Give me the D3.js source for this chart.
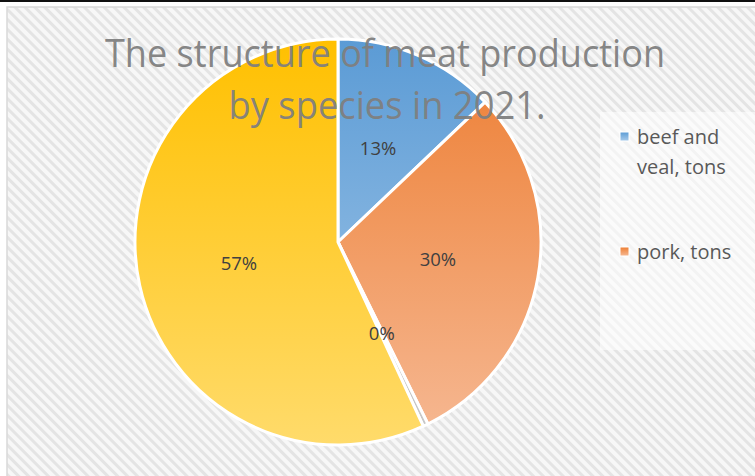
<!DOCTYPE html>
<html>
<head>
<meta charset="utf-8">
<script src="https://cdn.jsdelivr.net/npm/d3@7"></script>
<style>
  html, body { margin: 0; padding: 0; background: #fff; }
  svg { display: block; }
</style>
</head>
<body>
<svg id="chart" width="755" height="476"></svg>
<script>
const categories = ["beef and veal, tons", "pork, tons", "sheep and goat meat, tons", "poultry meat, tons"];
const shares = [12.9, 29.8, 0.4, 56.9];
const topColors = ["#5b9bd5", "#ed7d31", "#a5a5a5", "#ffc000"];
const bottomColors = ["#a9cbea", "#f6b994", "#c9c9c9", "#ffdb6b"];
const titleLines = ["The structure of meat production", "by species in 2021."];

const width = 755, height = 476;
const svg = d3.select("#chart");
const defs = svg.append("defs");

// hatched background
const pat = defs.append("pattern")
  .attr("id", "hatch")
  .attr("patternUnits", "userSpaceOnUse")
  .attr("width", 7)
  .attr("height", 7)
  .attr("patternTransform", "rotate(45)");
pat.append("rect").attr("width", 7).attr("height", 7).attr("fill", "#f7f7f7");
pat.append("rect").attr("width", 7).attr("height", 3).attr("fill", "#e4e4e4");

svg.append("rect").attr("width", width).attr("height", height).attr("fill", "#fff");
svg.append("rect").attr("x", 0).attr("y", 0).attr("width", width).attr("height", 2).attr("fill", "#111");
svg.append("rect")
  .attr("x", 7).attr("y", 7)
  .attr("width", width).attr("height", height)
  .attr("fill", "url(#hatch)")
  .attr("stroke", "#d9d9d9")
  .attr("stroke-width", 1.5);

// pie
const cx = 338, cy = 242, R = 203;
const data = categories.map((c, i) => ({ name: c, value: shares[i], i }));

data.forEach((d) => {
  const g = defs.append("linearGradient")
    .attr("id", "grad" + d.i)
    .attr("gradientUnits", "userSpaceOnUse")
    .attr("x1", 0).attr("y1", -R)
    .attr("x2", 0).attr("y2", R);
  g.append("stop").attr("offset", "0%").attr("stop-color", topColors[d.i]);
  g.append("stop").attr("offset", "100%").attr("stop-color", bottomColors[d.i]);
});

const pie = d3.pie().sort(null).value((d) => d.value);
const arcs = pie(data);
const arc = d3.arc().innerRadius(0).outerRadius(R);
const labelArc = d3.arc().innerRadius(R * 0.5).outerRadius(R * 0.5);

const pieG = svg.append("g").attr("transform", `translate(${cx},${cy})`);
pieG.selectAll("path")
  .data(arcs)
  .join("path")
  .attr("d", arc)
  .attr("fill", (d) => `url(#grad${d.data.i})`)
  .attr("stroke", "#fff")
  .attr("stroke-width", 3)
  .attr("stroke-linejoin", "round");

pieG.selectAll("text")
  .data(arcs)
  .join("text")
  .attr("transform", (d) => `translate(${labelArc.centroid(d)})`)
  .attr("text-anchor", "middle")
  .attr("dy", "0.35em")
  .attr("font-family", "'Open Sans', sans-serif")
  .attr("font-size", 18.5)
  .attr("fill", "#404040")
  .text((d) => d3.format(".0f")(d.data.value) + "%");

// title
const title = svg.append("g")
  .attr("font-family", "'Open Sans', sans-serif")
  .attr("font-size", 38)
  .attr("fill", "#7f7f7f")
  .attr("fill-opacity", 0.95);
title.append("text")
  .attr("x", 385).attr("y", 67)
  .attr("text-anchor", "middle")
  .attr("textLength", 560)
  .attr("lengthAdjust", "spacingAndGlyphs")
  .text(titleLines[0]);
title.append("text")
  .attr("x", 387).attr("y", 119)
  .attr("text-anchor", "middle")
  .attr("textLength", 317)
  .attr("lengthAdjust", "spacingAndGlyphs")
  .text(titleLines[1]);

// legend box: only the entries that fit in it are shown, as in the original
const lx = 600, ly = 112, lw = 155, lh = 238;
svg.append("rect")
  .attr("x", lx).attr("y", ly).attr("width", lw).attr("height", lh)
  .attr("fill", "#fff").attr("fill-opacity", 0.55);

const legend = svg.append("g");
const itemStep = 115;
data.forEach((d, k) => {
  const y0 = 137 + k * itemStep;
  if (y0 + 30 > ly + lh) return;
  const lg = defs.append("linearGradient")
    .attr("id", "leg" + d.i)
    .attr("x1", 0).attr("y1", 0).attr("x2", 0).attr("y2", 1);
  lg.append("stop").attr("offset", "0%").attr("stop-color", topColors[d.i]);
  lg.append("stop").attr("offset", "100%").attr("stop-color", bottomColors[d.i]);
  legend.append("rect")
    .attr("x", 620).attr("y", y0 - 5)
    .attr("width", 9).attr("height", 9)
    .attr("fill", `url(#leg${d.i})`)
    .attr("stroke", "#fff").attr("stroke-width", 1);

  const t = legend.append("text")
    .attr("x", 637).attr("y", y0)
    .attr("font-family", "'Open Sans', sans-serif")
    .attr("font-size", 20)
    .attr("fill", "#595959");
  // wrap words into lines no wider than 110px
  const words = d.name.split(" ");
  let line = [];
  let tspan = t.append("tspan").attr("x", 637).attr("dy", "0.35em");
  words.forEach((w) => {
    line.push(w);
    tspan.text(line.join(" "));
    if (tspan.node().getComputedTextLength() > 110 && line.length > 1) {
      line.pop();
      tspan.text(line.join(" "));
      line = [w];
      tspan = t.append("tspan").attr("x", 637).attr("dy", 30).text(w);
    }
  });
});
</script>
</body>
</html>
